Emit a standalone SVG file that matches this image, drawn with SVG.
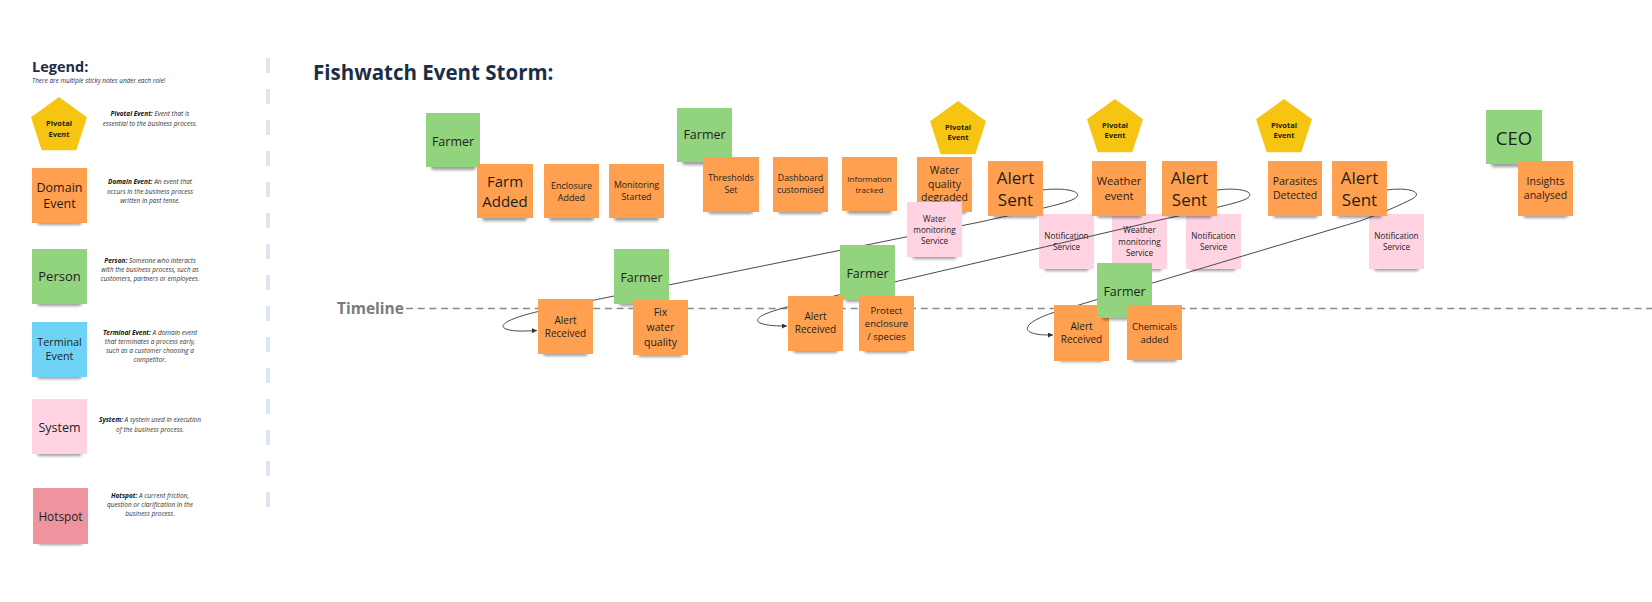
<svg xmlns="http://www.w3.org/2000/svg" xmlns:xlink="http://www.w3.org/1999/xlink" width="1652" height="602" viewBox="0 0 1652 602">
  <style>
    text { font-family: "Open Sans", "Liberation Sans", sans-serif; }
    .o { fill: #FEA04F; }
    .g { fill: #91D47D; }
    .p { fill: #FFD3E2; }
    .b { fill: #6FD3F6; }
    .r { fill: #EF949E; }
    .y { fill: #F6C512; }
    .t { fill: #1e1e1e; text-anchor: middle; dominant-baseline: central; }
    .pv { fill: #1e1e1e; text-anchor: middle; dominant-baseline: central; font-size: 7.5px; font-weight: 700; }
    .desc { fill: #333; text-anchor: middle; font-style: italic; font-size: 6.5px; dominant-baseline: central; }
    .desc tspan.k { font-weight: 700; fill: #111; }
    .link { fill: none; stroke: #4a4a4a; stroke-width: 1; }
  </style>
  <defs>
    <filter id="blur" x="-30%" y="-100%" width="160%" height="300%">
      <feGaussianBlur stdDeviation="1.8"/>
    </filter>
    <!-- soft shadow under the bottom edge of a sticky note -->
    <rect id="shadow" x="5" y="48" width="45" height="9" rx="3" fill="#000" opacity="0.38" filter="url(#blur)"/>
    <polygon id="pentagon" points="0,0 27.96,20.3 17.28,53.2 -17.28,53.2 -27.96,20.3" class="y"/>
    <marker id="arrow" viewBox="0 0 6 6" refX="6" refY="3" markerWidth="5" markerHeight="5" markerUnits="userSpaceOnUse" orient="auto">
      <path d="M0,0 L6,3 L0,6 z" fill="#333"/>
    </marker>
  </defs>

  <rect width="1652" height="602" fill="#ffffff"/>

  <!-- legend column -->
  <g id="legend-title">
    <text x="32" y="72" font-size="14.5" font-weight="700" fill="#1C2D48">Legend:</text>
    <text x="32" y="83" font-size="6.4" font-style="italic" fill="#1C2D48">There are multiple sticky notes under each role!</text>
  </g>

  <g id="legend-pivotal">
    <use xlink:href="#pentagon" transform="translate(59,97)"/>
    <text class="pv" x="59" y="123">Pivotal</text>
    <text class="pv" x="59" y="134">Event</text>
    <text class="desc" x="150" y="113"><tspan class="k">Pivotal Event:</tspan> Event that is</text>
    <text class="desc" x="150" y="123">essential to the business process.</text>
  </g>

  <g id="legend-domain">
    <g transform="translate(32,168)">
      <use xlink:href="#shadow"/>
      <rect class="o" width="55" height="55"/>
      <text class="t" x="27.5" y="19" font-size="12.5">Domain</text>
      <text class="t" x="27.5" y="35" font-size="12.5">Event</text>
    </g>
    <text class="desc" x="150" y="181"><tspan class="k">Domain Event:</tspan> An event that</text>
    <text class="desc" x="150" y="191">occurs in the business process</text>
    <text class="desc" x="150" y="200">written in past tense.</text>
  </g>

  <g id="legend-person">
    <g transform="translate(32,249)">
      <use xlink:href="#shadow"/>
      <rect class="g" width="55" height="55"/>
      <text class="t" x="27.5" y="27" font-size="13">Person</text>
    </g>
    <text class="desc" x="150" y="260"><tspan class="k">Person:</tspan> Someone who interacts</text>
    <text class="desc" x="150" y="269">with the business process, such as</text>
    <text class="desc" x="150" y="278">customers, partners or employees.</text>
  </g>

  <g id="legend-terminal">
    <g transform="translate(32,322)">
      <use xlink:href="#shadow"/>
      <rect class="b" width="55" height="55"/>
      <text class="t" x="27.5" y="19" font-size="10.8">Terminal</text>
      <text class="t" x="27.5" y="33" font-size="10.8">Event</text>
    </g>
    <text class="desc" x="150" y="332"><tspan class="k">Terminal Event:</tspan> A domain event</text>
    <text class="desc" x="150" y="341">that terminates a process early,</text>
    <text class="desc" x="150" y="350">such as a customer choosing a</text>
    <text class="desc" x="150" y="359">competitor.</text>
  </g>

  <g id="legend-system">
    <g transform="translate(32,399)">
      <use xlink:href="#shadow"/>
      <rect class="p" width="55" height="55"/>
      <text class="t" x="27.5" y="28" font-size="12.5">System</text>
    </g>
    <text class="desc" x="150" y="419"><tspan class="k">System:</tspan> A system used in execution</text>
    <text class="desc" x="150" y="429">of the business process.</text>
  </g>

  <g id="legend-hotspot">
    <g transform="translate(33,488)">
      <use xlink:href="#shadow"/>
      <rect class="r" width="55" height="56"/>
      <text class="t" x="27.5" y="28" font-size="11.8">Hotspot</text>
    </g>
    <text class="desc" x="150" y="495"><tspan class="k">Hotspot:</tspan> A current friction,</text>
    <text class="desc" x="150" y="504">question or clarification in the</text>
    <text class="desc" x="150" y="513">business process.</text>
  </g>

  <!-- divider between legend and board -->
  <line id="divider" x1="268" y1="58" x2="268" y2="512" stroke="#DEE7F1" stroke-width="4" stroke-dasharray="15 16"/>

  <!-- board heading and timeline -->
  <text id="title" x="313" y="80" font-size="20.5" font-weight="700" fill="#1C2D48">Fishwatch Event Storm:</text>

  <g id="timeline">
    <text x="337" y="314" font-size="15.5" font-weight="700" fill="#7B7B7B">Timeline</text>
    <line x1="406" y1="308.5" x2="1652" y2="308.5" stroke="#8a8a8a" stroke-width="1.4" stroke-dasharray="7 4.7"/>
  </g>

  <!-- system notes that the flow lines pass over -->
  <g id="notification-1" transform="translate(1039,214)">
    <use xlink:href="#shadow"/>
    <rect class="p" width="55" height="55"/>
    <text class="t" x="27.5" y="21" font-size="8.2">Notification</text>
    <text class="t" x="27.5" y="32" font-size="8.2">Service</text>
  </g>
  <g id="weather-monitoring" transform="translate(1112,214)">
    <use xlink:href="#shadow"/>
    <rect class="p" width="55" height="55"/>
    <text class="t" x="27.5" y="15" font-size="8.2">Weather</text>
    <text class="t" x="27.5" y="27" font-size="8.2">monitoring</text>
    <text class="t" x="27.5" y="38" font-size="8.2">Service</text>
  </g>
  <g id="notification-2" transform="translate(1186,214)">
    <use xlink:href="#shadow"/>
    <rect class="p" width="55" height="55"/>
    <text class="t" x="27.5" y="21" font-size="8.2">Notification</text>
    <text class="t" x="27.5" y="32" font-size="8.2">Service</text>
  </g>
  <g id="notification-3" transform="translate(1369,214)">
    <use xlink:href="#shadow"/>
    <rect class="p" width="55" height="55"/>
    <text class="t" x="27.5" y="21" font-size="8.2">Notification</text>
    <text class="t" x="27.5" y="32" font-size="8.2">Service</text>
  </g>

  <!-- alert flows: each Alert Sent loops back to an Alert Received -->
  <g id="connectors">
    <path class="link" marker-end="url(#arrow)" d="M1043,190 C1066,187 1086,192 1074,199 C1062,205 1020,213 980,222 L545,310 C512,317 496,325 506,329 C514,332 526,331 537,330.5"/>
    <path class="link" marker-end="url(#arrow)" d="M1217,190 C1240,187 1258,192 1246,199 C1236,204 1200,211 1160,220 L800,304 C772,310 750,318 760,323 C768,326 778,326 787,326"/>
    <path class="link" marker-end="url(#arrow)" d="M1387,190 C1408,187 1425,192 1412,199 C1400,205 1385,212 1360,221 L1062,310 C1040,316 1020,326 1030,332 C1036,335 1044,335 1053,335"/>
  </g>

  <!-- top row: setup -->
  <g id="farmer-1" transform="translate(426,113)">
    <use xlink:href="#shadow"/>
    <rect class="g" width="54" height="54"/>
    <text class="t" x="27" y="28" font-size="12.5">Farmer</text>
  </g>
  <g id="farm-added" transform="translate(477,164)">
    <use xlink:href="#shadow"/>
    <rect class="o" width="56" height="54"/>
    <text class="t" x="28" y="17" font-size="15">Farm</text>
    <text class="t" x="28" y="37" font-size="15">Added</text>
  </g>
  <g id="enclosure-added" transform="translate(544,164)">
    <use xlink:href="#shadow"/>
    <rect class="o" width="55" height="54"/>
    <text class="t" x="27.5" y="21" font-size="9">Enclosure</text>
    <text class="t" x="27.5" y="33" font-size="9">Added</text>
  </g>
  <g id="monitoring-started" transform="translate(609,164)">
    <use xlink:href="#shadow"/>
    <rect class="o" width="55" height="54"/>
    <text class="t" x="27.5" y="21" font-size="8.8">Monitoring</text>
    <text class="t" x="27.5" y="33" font-size="8.8">Started</text>
  </g>
  <g id="farmer-2" transform="translate(677,108)">
    <use xlink:href="#shadow"/>
    <rect class="g" width="55" height="54"/>
    <text class="t" x="27.5" y="26" font-size="12.5">Farmer</text>
  </g>
  <g id="thresholds-set" transform="translate(703,157)">
    <use xlink:href="#shadow"/>
    <rect class="o" width="56" height="55"/>
    <text class="t" x="28" y="21" font-size="8.8">Thresholds</text>
    <text class="t" x="28" y="33" font-size="8.8">Set</text>
  </g>
  <g id="dashboard-customised" transform="translate(773,157)">
    <use xlink:href="#shadow"/>
    <rect class="o" width="55" height="55"/>
    <text class="t" x="27.5" y="21" font-size="8.8">Dashboard</text>
    <text class="t" x="27.5" y="33" font-size="8.8">customised</text>
  </g>
  <g id="information-tracked" transform="translate(842,157)">
    <use xlink:href="#shadow"/>
    <rect class="o" width="55" height="54"/>
    <text class="t" x="27.5" y="21" font-size="8">Information</text>
    <text class="t" x="27.5" y="32" font-size="8">tracked</text>
  </g>

  <!-- water quality incident -->
  <g id="pivotal-1">
    <use xlink:href="#pentagon" transform="translate(958,101)"/>
    <text class="pv" x="958" y="127">Pivotal</text>
    <text class="pv" x="958" y="137">Event</text>
  </g>
  <g id="water-quality-degraded" transform="translate(917,157)">
    <use xlink:href="#shadow"/>
    <rect class="o" width="55" height="55"/>
    <text class="t" x="27.5" y="13" font-size="10.5">Water</text>
    <text class="t" x="27.5" y="27" font-size="10.5">quality</text>
    <text class="t" x="27.5" y="40" font-size="10.5">degraded</text>
  </g>
  <g id="water-monitoring" transform="translate(907,202)">
    <use xlink:href="#shadow"/>
    <rect class="p" width="55" height="55"/>
    <text class="t" x="27.5" y="16" font-size="8.2">Water</text>
    <text class="t" x="27.5" y="27" font-size="8.2">monitoring</text>
    <text class="t" x="27.5" y="38" font-size="8.2">Service</text>
  </g>
  <g id="alert-sent-1" transform="translate(988,161)">
    <use xlink:href="#shadow"/>
    <rect class="o" width="55" height="55"/>
    <text class="t" x="27.5" y="16" font-size="17">Alert</text>
    <text class="t" x="27.5" y="38" font-size="17">Sent</text>
  </g>

  <!-- weather incident -->
  <g id="pivotal-2">
    <use xlink:href="#pentagon" transform="translate(1115,99)"/>
    <text class="pv" x="1115" y="125">Pivotal</text>
    <text class="pv" x="1115" y="135">Event</text>
  </g>
  <g id="weather-event" transform="translate(1092,161)">
    <use xlink:href="#shadow"/>
    <rect class="o" width="54" height="55"/>
    <text class="t" x="27" y="19" font-size="11.2">Weather</text>
    <text class="t" x="27" y="34" font-size="11.2">event</text>
  </g>
  <g id="alert-sent-2" transform="translate(1162,161)">
    <use xlink:href="#shadow"/>
    <rect class="o" width="55" height="55"/>
    <text class="t" x="27.5" y="16" font-size="17">Alert</text>
    <text class="t" x="27.5" y="38" font-size="17">Sent</text>
  </g>

  <!-- parasite incident -->
  <g id="pivotal-3">
    <use xlink:href="#pentagon" transform="translate(1284,99)"/>
    <text class="pv" x="1284" y="125">Pivotal</text>
    <text class="pv" x="1284" y="135">Event</text>
  </g>
  <g id="parasites-detected" transform="translate(1268,161)">
    <use xlink:href="#shadow"/>
    <rect class="o" width="54" height="55"/>
    <text class="t" x="27" y="20" font-size="10.5">Parasites</text>
    <text class="t" x="27" y="34" font-size="10.5">Detected</text>
  </g>
  <g id="alert-sent-3" transform="translate(1332,161)">
    <use xlink:href="#shadow"/>
    <rect class="o" width="55" height="55"/>
    <text class="t" x="27.5" y="16" font-size="17">Alert</text>
    <text class="t" x="27.5" y="38" font-size="17">Sent</text>
  </g>

  <!-- reporting -->
  <g id="ceo" transform="translate(1486,110)">
    <use xlink:href="#shadow"/>
    <rect class="g" width="56" height="54"/>
    <text class="t" x="28" y="27" font-size="18.5">CEO</text>
  </g>
  <g id="insights-analysed" transform="translate(1518,161)">
    <use xlink:href="#shadow"/>
    <rect class="o" width="55" height="55"/>
    <text class="t" x="27.5" y="20" font-size="10.5">Insights</text>
    <text class="t" x="27.5" y="34" font-size="10.5">analysed</text>
  </g>

  <!-- responses on the timeline -->
  <g id="farmer-3" transform="translate(614,249)">
    <use xlink:href="#shadow"/>
    <rect class="g" width="55" height="55"/>
    <text class="t" x="27.5" y="28" font-size="12.5">Farmer</text>
  </g>
  <g id="alert-received-1" transform="translate(538,299)">
    <use xlink:href="#shadow"/>
    <rect class="o" width="55" height="55"/>
    <text class="t" x="27.5" y="21" font-size="10">Alert</text>
    <text class="t" x="27.5" y="34" font-size="10">Received</text>
  </g>
  <g id="fix-water-quality" transform="translate(633,300)">
    <use xlink:href="#shadow"/>
    <rect class="o" width="55" height="55"/>
    <text class="t" x="27.5" y="12" font-size="10.5">Fix</text>
    <text class="t" x="27.5" y="27" font-size="10.5">water</text>
    <text class="t" x="27.5" y="42" font-size="10.5">quality</text>
  </g>

  <g id="farmer-4" transform="translate(840,245)">
    <use xlink:href="#shadow"/>
    <rect class="g" width="55" height="55"/>
    <text class="t" x="27.5" y="28" font-size="12.5">Farmer</text>
  </g>
  <g id="alert-received-2" transform="translate(788,296)">
    <use xlink:href="#shadow"/>
    <rect class="o" width="55" height="55"/>
    <text class="t" x="27.5" y="20" font-size="10">Alert</text>
    <text class="t" x="27.5" y="33" font-size="10">Received</text>
  </g>
  <g id="protect-enclosure" transform="translate(859,296)">
    <use xlink:href="#shadow"/>
    <rect class="o" width="55" height="55"/>
    <text class="t" x="27.5" y="14" font-size="9.5">Protect</text>
    <text class="t" x="27.5" y="27" font-size="9.5">enclosure</text>
    <text class="t" x="27.5" y="40" font-size="9.5">/ species</text>
  </g>

  <g id="alert-received-3" transform="translate(1054,305)">
    <use xlink:href="#shadow"/>
    <rect class="o" width="55" height="56"/>
    <text class="t" x="27.5" y="21" font-size="10">Alert</text>
    <text class="t" x="27.5" y="34" font-size="10">Received</text>
  </g>
  <g id="farmer-5" transform="translate(1097,263)">
    <use xlink:href="#shadow"/>
    <rect class="g" width="55" height="55"/>
    <text class="t" x="27.5" y="28" font-size="12.5">Farmer</text>
  </g>
  <g id="chemicals-added" transform="translate(1127,305)">
    <use xlink:href="#shadow"/>
    <rect class="o" width="55" height="55"/>
    <text class="t" x="27.5" y="21" font-size="9.5">Chemicals</text>
    <text class="t" x="27.5" y="34" font-size="9.5">added</text>
  </g>
</svg>
